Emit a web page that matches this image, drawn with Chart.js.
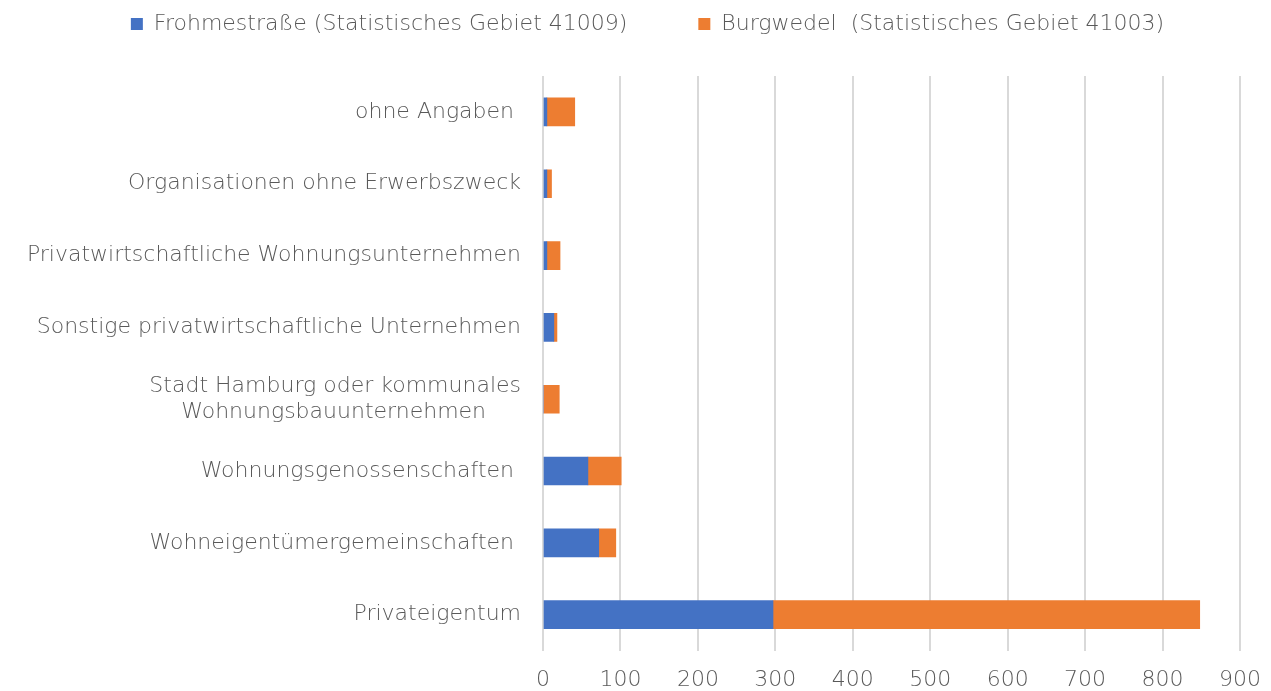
<!DOCTYPE html>
<html>
<head>
<meta charset="utf-8">
<script src="https://cdn.jsdelivr.net/npm/chart.js@4"></script>
<style>
  html, body { margin: 0; padding: 0; background: #fff; }
  #wrap { width: 1271px; height: 691px; }
</style>
</head>
<body>
<div id="wrap"><canvas id="grafik_eigentum"></canvas></div>
<script>
var kategorien = [
    'ohne Angaben ',
    'Organisationen ohne Erwerbszweck',
    'Privatwirtschaftliche Wohnungsunternehmen',
    'Sonstige privatwirtschaftliche Unternehmen',
    ['Stadt Hamburg oder kommunales', 'Wohnungsbauunternehmen     '],
    'Wohnungsgenossenschaften ',
    'Wohneigentümergemeinschaften ',
    'Privateigentum'
];
var frohmestrasse = [5, 5, 5, 14, 0, 58, 72, 297];
var burgwedel = [36, 6, 17, 4, 21, 43, 22, 551];
var xTicks = [0, 100, 200, 300, 400, 500, 600, 700, 800, 900];

var schrift = { family: 'DejaVu Sans', size: 22, weight: '200' };
var grau = '#595959';

// Legende: mehr Abstand nach unten, etwas nach rechts versetzt
var legendeAnpassen = {
    id: 'legendeAnpassen',
    afterInit: function (chart) {
        var legend = chart.legend;
        var fit = legend.fit;
        var draw = legend.draw;
        legend.fit = function () {
            fit.call(this);
            this.height += 31;
        };
        legend.draw = function () {
            var c = this.ctx;
            c.save();
            c.translate(12, 0);
            draw.call(this);
            c.restore();
        };
    }
};

const ctx = document.getElementById('grafik_eigentum');
new Chart(ctx, {
    type: 'bar',
    data: {
        labels: kategorien,
        datasets: [{
            label: 'Frohmestraße (Statistisches Gebiet 41009)',
            data: frohmestrasse,
            backgroundColor: '#4472C4',
            barThickness: 28
        }, {
            label: 'Burgwedel  (Statistisches Gebiet 41003)',
            data: burgwedel,
            backgroundColor: '#ED7D31',
            barThickness: 28
        }]
    },
    plugins: [legendeAnpassen],
    options: {
        indexAxis: 'y',
        responsive: true,
        maintainAspectRatio: false,
        animation: false,
        layout: { padding: { left: 0, right: 0, top: -58, bottom: -18 } },
        plugins: {
            legend: {
                position: 'top',
                labels: {
                    color: grau,
                    font: schrift,
                    boxWidth: 12,
                    boxHeight: 12,
                    padding: 71
                }
            },
            tooltip: { enabled: false }
        },
        scales: {
            x: {
                stacked: true,
                min: 0,
                max: 900,
                afterBuildTicks: function (scale) {
                    scale.ticks = xTicks.map(function (v) { return { value: v }; });
                },
                afterFit: function (scale) { scale.paddingRight = 31; },
                grid: { color: '#d9d9d9', lineWidth: 2, drawTicks: false },
                border: { display: false },
                ticks: { color: grau, font: schrift, padding: 16 }
            },
            y: {
                stacked: true,
                grid: { display: false },
                border: { display: false },
                afterFit: function (scale) { scale.width = 543; },
                ticks: { color: grau, font: schrift, padding: 14 }
            }
        }
    }
});
</script>
</body>
</html>
